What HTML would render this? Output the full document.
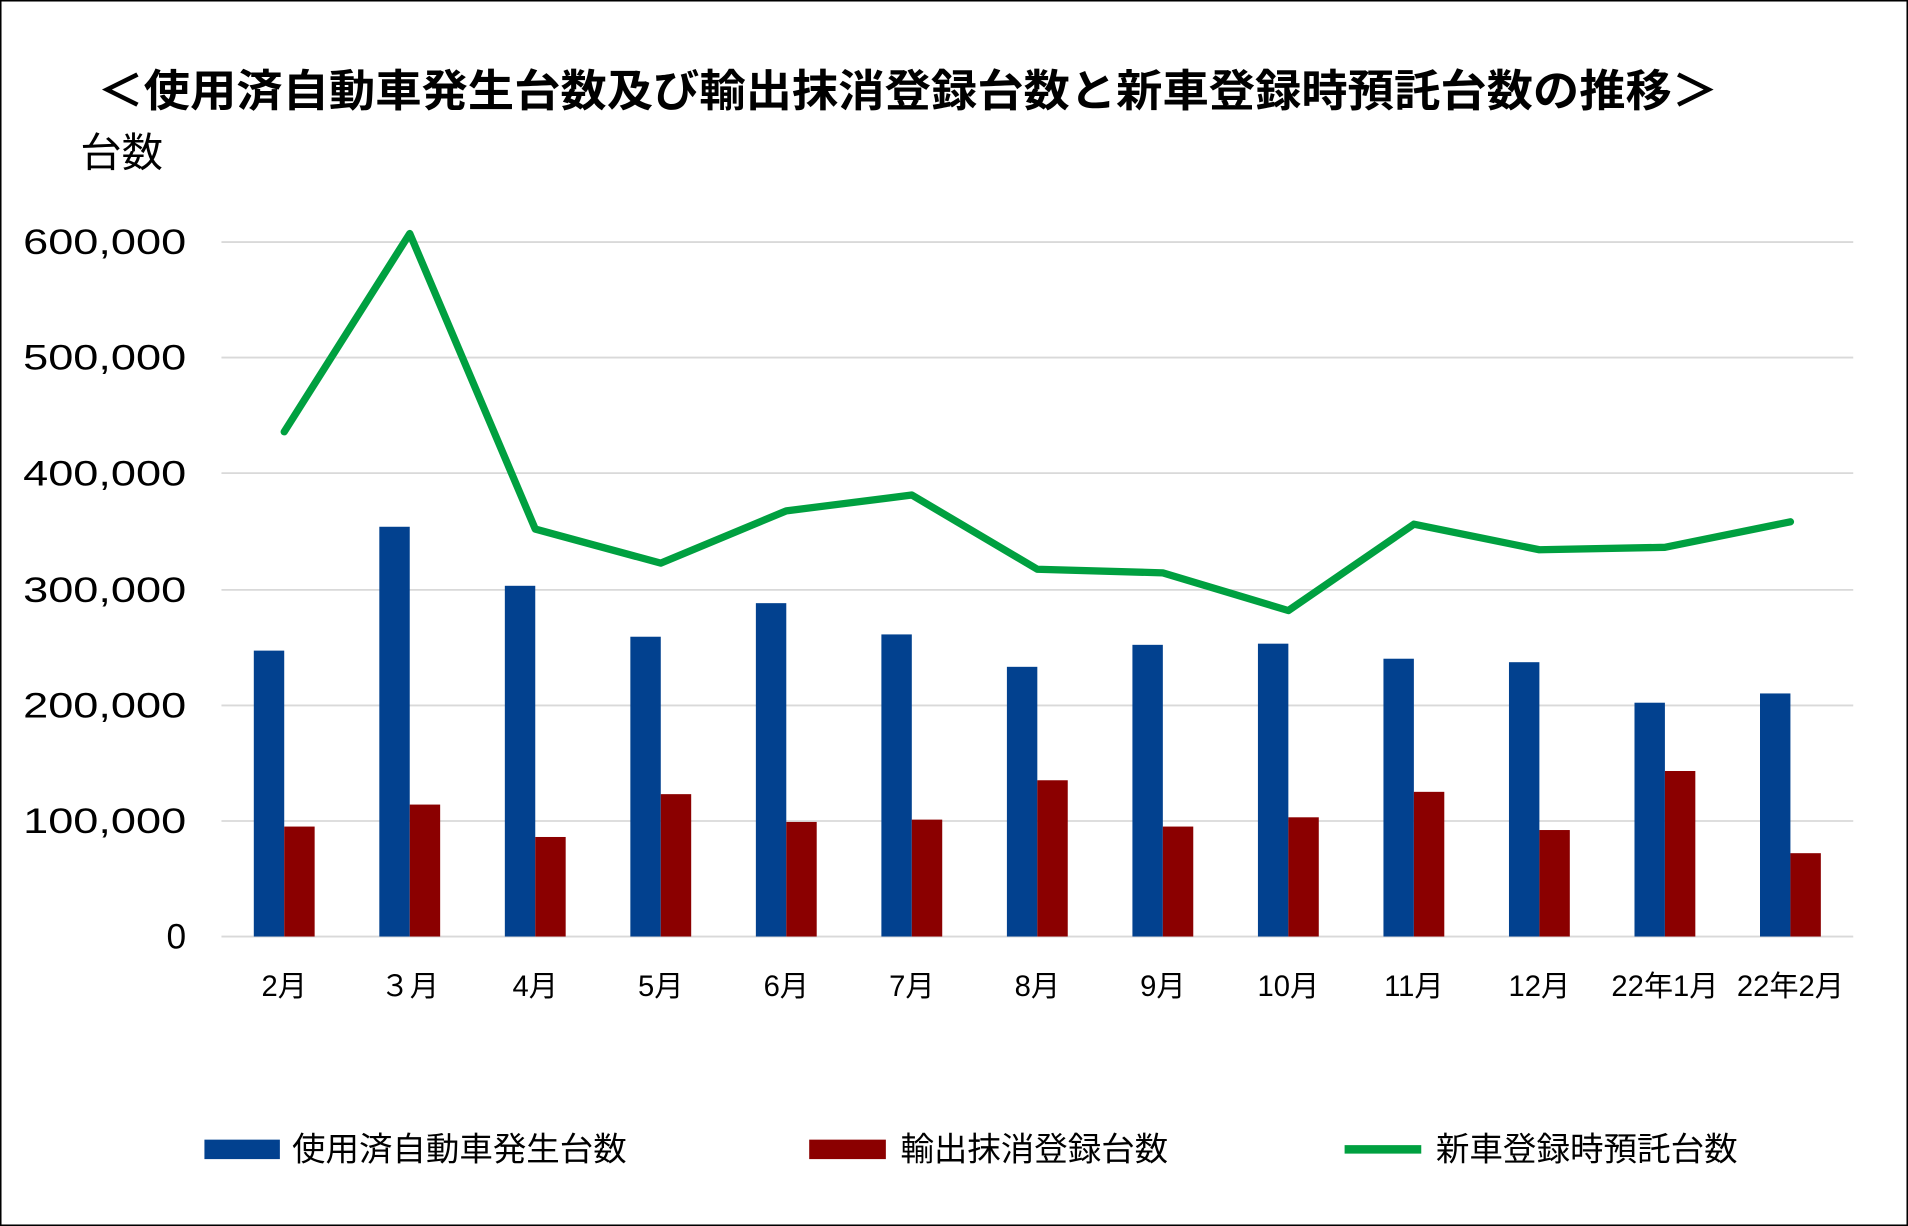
<!DOCTYPE html>
<html><head><meta charset="utf-8"><style>
html,body{margin:0;padding:0;background:#fff}
svg{display:block}
text{font-family:"Liberation Sans","Noto Sans CJK JP",sans-serif;fill:#000}
</style></head><body>
<svg width="1908" height="1226" viewBox="0 0 1568 1008" preserveAspectRatio="none" xmlns="http://www.w3.org/2000/svg">
<rect x="0.5" y="0.5" width="1567" height="1007" fill="#fff" stroke="#000" stroke-width="1.5"/>
<text x="80" y="87" font-size="36" font-weight="bold" textLength="1332" lengthAdjust="spacingAndGlyphs">＜使用済自動車発生台数及び輸出抹消登録台数と新車登録時預託台数の推移＞</text>
<text x="66" y="137" font-size="33" textLength="68" lengthAdjust="spacingAndGlyphs">台数</text>
<g stroke="#d9d9d9" stroke-width="1.5">
<line x1="182" x2="1523" y1="199" y2="199"/><line x1="182" x2="1523" y1="294" y2="294"/>
<line x1="182" x2="1523" y1="389" y2="389"/><line x1="182" x2="1523" y1="485" y2="485"/>
<line x1="182" x2="1523" y1="580" y2="580"/><line x1="182" x2="1523" y1="675" y2="675"/>
<line x1="182" x2="1523" y1="770" y2="770"/>
</g>
<g font-size="29" text-anchor="end">
<text x="153" y="209" textLength="134" lengthAdjust="spacingAndGlyphs">600,000</text><text x="153" y="304" textLength="134" lengthAdjust="spacingAndGlyphs">500,000</text>
<text x="153" y="399" textLength="134" lengthAdjust="spacingAndGlyphs">400,000</text><text x="153" y="495" textLength="134" lengthAdjust="spacingAndGlyphs">300,000</text>
<text x="153" y="590" textLength="134" lengthAdjust="spacingAndGlyphs">200,000</text><text x="153" y="685" textLength="134" lengthAdjust="spacingAndGlyphs">100,000</text>
<text x="153" y="780">0</text>
</g>
<g id="bars"></g>
<g font-size="24" text-anchor="middle" id="cats"></g>
<polyline id="line" fill="none" stroke="#00a040" stroke-width="6" stroke-linejoin="round" stroke-linecap="round" points=""/>
<rect x="168" y="937" width="62" height="16" fill="#02418f"/>
<text x="240" y="954" font-size="27" textLength="275" lengthAdjust="spacingAndGlyphs">使用済自動車発生台数</text>
<rect x="665" y="937" width="63" height="16" fill="#8b0000"/>
<text x="740" y="954" font-size="27" textLength="220" lengthAdjust="spacingAndGlyphs">輸出抹消登録台数</text>
<line x1="1105" y1="945" x2="1168" y2="945" stroke="#00a040" stroke-width="7"/>
<text x="1180" y="954" font-size="27" textLength="248" lengthAdjust="spacingAndGlyphs">新車登録時預託台数</text>
</svg>
<script>
var blue=[247,354,303,259,288,261,233,252,253,240,237,202,210];
var red=[95,114,86,123,99,101,135,95,103,125,92,143,72];
var gy=[355,192,435,463,420,407,468,471,502,431,452,450,429];
var cats=["2月","３月","4月","5月","6月","7月","8月","9月","10月","11月","12月","22年1月","22年2月"];
var ns="http://www.w3.org/2000/svg",b=document.getElementById("bars"),c=document.getElementById("cats"),pts=[];
for(var i=0;i<13;i++){var cx=182+103.15*(i+0.5);
function r(x,v,col){var e=document.createElementNS(ns,"rect");var h=v*0.9517;e.setAttribute("x",x);e.setAttribute("y",770-h);e.setAttribute("width",25);e.setAttribute("height",h);e.setAttribute("fill",col);b.appendChild(e);}
r(cx-25,blue[i],"#02418f");r(cx,red[i],"#8b0000");
var t=document.createElementNS(ns,"text");t.setAttribute("x",cx);t.setAttribute("y",819);t.textContent=cats[i];c.appendChild(t);
pts.push(cx+","+gy[i]);}
document.getElementById("line").setAttribute("points",pts.join(" "));
</script>
</body></html>
